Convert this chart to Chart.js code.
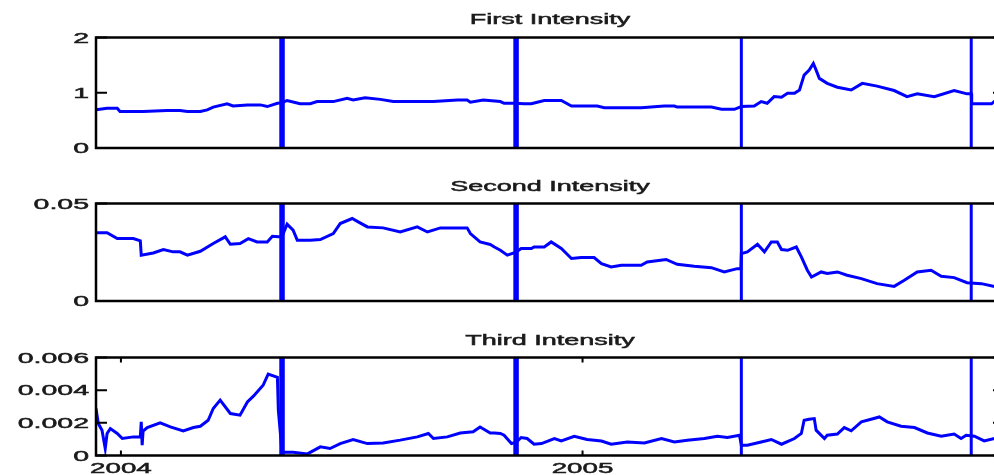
<!DOCTYPE html>
<html>
<head>
<meta charset="utf-8">
<script src="https://cdn.jsdelivr.net/npm/chart.js@4.4.1/dist/chart.umd.min.js"></script>
<style>
  html, body { margin: 0; padding: 0; overflow: hidden; background: #fff; }
  #wrap { position: relative; width: 994px; height: 475px; overflow: hidden; }
  canvas { position: absolute; left: 0; top: 0; }
</style>
</head>
<body>
<div id="wrap">
  <canvas id="c1" width="1010" height="475"></canvas>
  <canvas id="c2" width="1010" height="475"></canvas>
  <canvas id="c3" width="1010" height="475"></canvas>
</div>
<script>
// dates as decimal years
const dates1 = [2003.946, 2003.970, 2003.992, 2003.998, 2004.027, 2004.048, 2004.100, 2004.128, 2004.144, 2004.172,
  2004.187, 2004.200, 2004.230, 2004.243, 2004.274, 2004.302, 2004.317, 2004.339, 2004.349, 2004.360,
  2004.388, 2004.410, 2004.425, 2004.460, 2004.490, 2004.503, 2004.529, 2004.562, 2004.590, 2004.677,
  2004.729, 2004.750, 2004.757, 2004.785, 2004.822, 2004.830, 2004.852, 2004.874, 2004.889, 2004.917,
  2004.954, 2004.976, 2005.032, 2005.047, 2005.127, 2005.177, 2005.199, 2005.205, 2005.279, 2005.301,
  2005.329, 2005.344, 2005.372, 2005.387, 2005.400, 2005.415, 2005.431, 2005.444, 2005.459, 2005.470,
  2005.480, 2005.491, 2005.500, 2005.506, 2005.513, 2005.530, 2005.552, 2005.582, 2005.606, 2005.638,
  2005.675, 2005.703, 2005.725, 2005.762, 2005.805, 2005.833, 2005.842, 2005.843, 2005.886, 2005.892, 2005.913];
const first = [0.69, 0.72, 0.72, 0.66, 0.66, 0.66, 0.68, 0.68, 0.66, 0.66,
  0.69, 0.74, 0.80, 0.76, 0.78, 0.78, 0.75, 0.81, 0.82, 0.86,
  0.80, 0.80, 0.84, 0.84, 0.90, 0.87, 0.91, 0.88, 0.84, 0.84,
  0.87, 0.87, 0.83, 0.87, 0.84, 0.81, 0.81, 0.80, 0.80, 0.86,
  0.86, 0.76, 0.76, 0.73, 0.73, 0.76, 0.76, 0.74, 0.74, 0.70,
  0.70, 0.75, 0.76, 0.84, 0.81, 0.93, 0.92, 0.99, 0.99, 1.05,
  1.32, 1.41, 1.53, 1.41, 1.26, 1.17, 1.10, 1.05, 1.17, 1.12,
  1.04, 0.93, 0.98, 0.93, 1.04, 0.98, 0.98, 0.80, 0.80, 0.84, 0.84];

const dates2 = [2003.946, 2003.970, 2003.992, 2004.027, 2004.042, 2004.044, 2004.070, 2004.092, 2004.113, 2004.128,
  2004.144, 2004.172, 2004.200, 2004.226, 2004.237, 2004.258, 2004.276, 2004.295, 2004.317, 2004.328,
  2004.341, 2004.349, 2004.360, 2004.373, 2004.382, 2004.410, 2004.432, 2004.460, 2004.475, 2004.501,
  2004.514, 2004.534, 2004.568, 2004.605, 2004.642, 2004.664, 2004.692, 2004.750, 2004.757, 2004.778,
  2004.800, 2004.809, 2004.822, 2004.837, 2004.856, 2004.867, 2004.889, 2004.895, 2004.917, 2004.932,
  2004.954, 2004.976, 2004.997, 2005.025, 2005.041, 2005.062, 2005.084, 2005.127, 2005.140, 2005.181,
  2005.205, 2005.242, 2005.279, 2005.307, 2005.335, 2005.343, 2005.344, 2005.357, 2005.379, 2005.394,
  2005.409, 2005.422, 2005.431, 2005.444, 2005.463, 2005.474, 2005.487, 2005.496, 2005.517, 2005.530,
  2005.552, 2005.573, 2005.604, 2005.638, 2005.675, 2005.697, 2005.725, 2005.755, 2005.777, 2005.805,
  2005.833, 2005.864, 2005.892, 2005.913];
const second = [0.0350, 0.0350, 0.0320, 0.0320, 0.0308, 0.0235, 0.0246, 0.0264, 0.0252, 0.0252,
  0.0235, 0.0255, 0.0295, 0.0329, 0.0291, 0.0295, 0.0320, 0.0303, 0.0303, 0.0332,
  0.0329, 0.0330, 0.0394, 0.0363, 0.0312, 0.0312, 0.0315, 0.0346, 0.0397, 0.0423,
  0.0406, 0.0380, 0.0375, 0.0354, 0.0380, 0.0354, 0.0375, 0.0375, 0.0346, 0.0303,
  0.0290, 0.0277, 0.0260, 0.0235, 0.0250, 0.0269, 0.0269, 0.0277, 0.0277, 0.0303,
  0.0269, 0.0218, 0.0223, 0.0223, 0.0192, 0.0175, 0.0183, 0.0183, 0.0200, 0.0213,
  0.0188, 0.0178, 0.0171, 0.0149, 0.0166, 0.0166, 0.0243, 0.0252, 0.0291, 0.0252,
  0.0303, 0.0303, 0.0264, 0.0260, 0.0277, 0.0226, 0.0158, 0.0123, 0.0149, 0.0141,
  0.0149, 0.0132, 0.0115, 0.0089, 0.0075, 0.0106, 0.0149, 0.0158, 0.0127, 0.0120,
  0.0094, 0.0089, 0.0075, 0.0075];

const dates3 = [2003.946, 2003.951, 2003.959, 2003.966, 2003.970, 2003.977, 2003.992, 2004.003, 2004.027, 2004.042,
  2004.044, 2004.046, 2004.048, 2004.057, 2004.085, 2004.107, 2004.135, 2004.157, 2004.172, 2004.189,
  2004.200, 2004.215, 2004.237, 2004.258, 2004.274, 2004.287, 2004.308, 2004.319, 2004.339, 2004.341,
  2004.349, 2004.373, 2004.404, 2004.432, 2004.453, 2004.475, 2004.503, 2004.534, 2004.568, 2004.605,
  2004.642, 2004.666, 2004.677, 2004.707, 2004.735, 2004.763, 2004.778, 2004.800, 2004.809, 2004.822,
  2004.830, 2004.846, 2004.856, 2004.867, 2004.880, 2004.895, 2004.911, 2004.939, 2004.954, 2004.982,
  2005.010, 2005.041, 2005.062, 2005.097, 2005.134, 2005.171, 2005.199, 2005.227, 2005.264, 2005.292,
  2005.314, 2005.340, 2005.344, 2005.357, 2005.387, 2005.409, 2005.431, 2005.459, 2005.474, 2005.480,
  2005.491, 2005.502, 2005.506, 2005.524, 2005.530, 2005.552, 2005.567, 2005.582, 2005.604, 2005.625,
  2005.643, 2005.660, 2005.690, 2005.719, 2005.747, 2005.777, 2005.805, 2005.820, 2005.831, 2005.849,
  2005.870, 2005.892, 2005.913];
const third = [0.00288, 0.00196, 0.00155, 0.00043, 0.00135, 0.00165, 0.00135, 0.00104, 0.00114, 0.00114,
  0.00206, 0.00063, 0.00150, 0.00171, 0.00200, 0.00175, 0.00151, 0.00171, 0.00179, 0.00216,
  0.00288, 0.00339, 0.00257, 0.00247, 0.00328, 0.00363, 0.00430, 0.00498, 0.00478, 0.00277,
  0.00020, 0.00020, 0.00010, 0.00053, 0.00043, 0.00073, 0.00098, 0.00073, 0.00077, 0.00094,
  0.00114, 0.00135, 0.00104, 0.00114, 0.00138, 0.00145, 0.00175, 0.00138, 0.00138, 0.00135,
  0.00124, 0.00073, 0.00080, 0.00110, 0.00104, 0.00069, 0.00073, 0.00104, 0.00089, 0.00118,
  0.00098, 0.00089, 0.00069, 0.00083, 0.00077, 0.00104, 0.00083, 0.00094, 0.00104, 0.00118,
  0.00110, 0.00124, 0.00063, 0.00063, 0.00083, 0.00098, 0.00069, 0.00104, 0.00135, 0.00216,
  0.00222, 0.00226, 0.00155, 0.00104, 0.00124, 0.00131, 0.00171, 0.00151, 0.00206, 0.00222,
  0.00236, 0.00206, 0.00179, 0.00171, 0.00138, 0.00118, 0.00131, 0.00104, 0.00124, 0.00118,
  0.00089, 0.00104, 0.00104];

// vertical marker dates
const thickLines = [2004.349, 2004.856];
const thinLines = [2005.344, 2005.842];

const xTickVals = [2004, 2005];
const xTickLabels = ["2004", "2005"];
const yTicks1 = [0, 1, 2];
const yLabels1 = ["0", "1", "2"];
const yTicks2 = [0, 0.05];
const yLabels2 = ["0", "0.05"];
const yTicks3 = [0, 0.002, 0.004, 0.006];
const yLabels3 = ["0", "0.002", "0.004", "0.006"];

const X_MIN = 2003.946, X_MAX = 2005.913;

// the reference text is stretched sideways, so draw it scaled
function stretchText(ctx, txt, x, y, align, sx) {
  ctx.save();
  ctx.translate(x, y);
  ctx.scale(sx, 1);
  ctx.textAlign = align;
  ctx.textBaseline = "alphabetic";
  ctx.lineWidth = 0.5;
  ctx.strokeText(txt, 0, 0);
  ctx.fillText(txt, 0, 0);
  ctx.restore();
}

// matlab-ish box, inward ticks and labels
const frame = {
  id: "frame",
  afterDatasetsDraw(chart, args, o) {
    const ctx = chart.ctx;
    const a = chart.chartArea;
    const x = chart.scales.x, y = chart.scales.y;
    ctx.save();
    ctx.strokeStyle = "#000";
    ctx.lineWidth = 2.5;
    ctx.strokeRect(a.left, a.top, a.right - a.left, a.bottom - a.top);

    ctx.lineWidth = 2;
    ctx.beginPath();
    o.yTicks.forEach(v => {
      const py = y.getPixelForValue(v);
      ctx.moveTo(a.left, py); ctx.lineTo(a.left + 11, py);
      ctx.moveTo(a.right - 11, py); ctx.lineTo(a.right, py);
    });
    o.xTicks.forEach(v => {
      const px = x.getPixelForValue(v);
      ctx.moveTo(px, a.bottom); ctx.lineTo(px, a.bottom - 5);
      ctx.moveTo(px, a.top); ctx.lineTo(px, a.top + 5);
    });
    ctx.stroke();

    ctx.fillStyle = "#1a1a1a";
    ctx.strokeStyle = "#1a1a1a";
    ctx.font = '15px "Liberation Sans"';
    o.yTicks.forEach((v, i) => {
      stretchText(ctx, o.yLabels[i], 89, y.getPixelForValue(v) + 5, "right", 1.9);
    });
    o.xTicks.forEach((v, i) => {
      stretchText(ctx, o.xLabels[i], x.getPixelForValue(v), a.bottom + 17.5, "center", 1.85);
    });
    stretchText(ctx, o.title, (a.left + a.right) / 2, a.top - o.titleGap, "center", 1.8);
    ctx.restore();
  }
};

function pts(xs, ys) {
  return xs.map((d, i) => ({ x: d, y: ys[i] }));
}

function vlines(list, top) {
  const out = [];
  list.forEach(d => { out.push({ x: d, y: 0 }, { x: d, y: top }, { x: d, y: null }); });
  return out;
}

function panel(id, xs, ys, yMax, yTicks, yLabels, title, top, bottom, titleGap, showX) {
  new Chart(document.getElementById(id), {
    type: "line",
    data: {
      datasets: [
        { data: pts(xs, ys), borderColor: "#0000ff", borderWidth: 3, pointRadius: 0, tension: 0 },
        { data: vlines(thickLines, yMax), borderColor: "#0000ff", borderWidth: 5.5, pointRadius: 0, spanGaps: false },
        { data: vlines(thinLines, yMax), borderColor: "#0000ff", borderWidth: 3, pointRadius: 0, spanGaps: false }
      ]
    },
    options: {
      responsive: false,
      animation: false,
      devicePixelRatio: 1,
      layout: { padding: { left: 96, right: 6, top: top, bottom: 475 - bottom } },
      plugins: {
        legend: { display: false },
        tooltip: { enabled: false },
        frame: {
          yTicks: yTicks, yLabels: yLabels,
          xTicks: showX ? xTickVals : [], xLabels: xTickLabels,
          title: title, titleGap: titleGap
        }
      },
      scales: {
        x: { type: "linear", min: X_MIN, max: X_MAX, display: false },
        y: { min: 0, max: yMax, display: false }
      }
    },
    plugins: [frame]
  });
}

panel("c1", dates1, first, 2, yTicks1, yLabels1, "First Intensity", 37.5, 148, 14, false);
panel("c2", dates2, second, 0.05, yTicks2, yLabels2, "Second Intensity", 203.5, 301, 13, false);
panel("c3", dates3, third, 0.006, yTicks3, yLabels3, "Third Intensity", 357.5, 455.5, 13, true);
</script>
</body>
</html>
